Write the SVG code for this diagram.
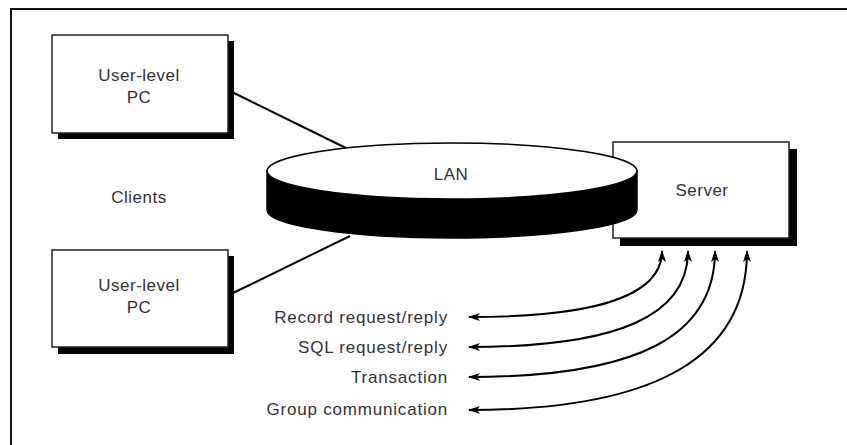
<svg xmlns="http://www.w3.org/2000/svg" width="847" height="445" viewBox="0 0 847 445">
<defs>
<style>
.box{fill:#fff;stroke:#222;stroke-width:1.5}
.shadow{fill:#000}
.t{font-family:"Liberation Sans",Arial,sans-serif;font-size:17px;letter-spacing:0.5px;fill:#333;text-anchor:middle}
.lbl{font-family:"Liberation Sans",Arial,sans-serif;font-size:17px;letter-spacing:0.8px;fill:#333;text-anchor:end}
.line{stroke:#000;stroke-width:2;fill:none}
.arr{stroke:#000;stroke-width:2;fill:none;marker-start:url(#ah);marker-end:url(#ah)}
</style>
<marker id="ah" viewBox="0 0 12 8" refX="11" refY="4" markerWidth="12" markerHeight="8" markerUnits="userSpaceOnUse" orient="auto-start-reverse">
<path d="M0,0 L12,4 L0,8 L3,4 Z" fill="#000"/>
</marker>
</defs>
<rect width="847" height="445" fill="#fff"/>
<g id="frame"><path d="M11,445 L11,9 L847,9" fill="none" stroke="#111" stroke-width="2"/></g>
<g id="connectors">
<line class="line" x1="228" y1="90" x2="350" y2="150"/>
<line class="line" x1="233" y1="293" x2="350" y2="236"/>
<path class="arr" d="M662,251 C662,295 600,317 469,317"/>
<path class="arr" d="M688,251 C688,315 620,347 469,347"/>
<path class="arr" d="M715,251 C715,335 640,377 469,377"/>
<path class="arr" d="M747,251 C747,355 660,410 469,410"/>
</g>
<g id="pc1">
<rect class="shadow" x="58" y="41" width="176" height="98"/>
<rect class="box" x="52" y="35" width="176" height="98"/>
<text class="t" x="139" y="81">User-level</text>
<text class="t" x="139" y="103">PC</text>
</g>
<g id="pc2">
<rect class="shadow" x="58" y="256" width="176" height="98"/>
<rect class="box" x="52" y="250" width="176" height="97"/>
<text class="t" x="139" y="291">User-level</text>
<text class="t" x="139" y="313">PC</text>
</g>
<g id="clients"><text class="t" x="139" y="203">Clients</text></g>
<g id="server">
<rect class="shadow" x="620" y="149" width="177" height="97"/>
<rect class="box" x="613" y="142" width="176" height="96"/>
<text class="t" x="702" y="196">Server</text>
</g>
<g id="lan">
<path d="M267,171 L267,210 A185,28 0 0 0 637,210 L637,171 Z" fill="#000" stroke="#000" stroke-width="1.5"/>
<ellipse cx="452" cy="171" rx="185" ry="28" fill="#fff" stroke="#000" stroke-width="1.5"/>
<text class="t" x="451" y="180">LAN</text>
</g>
<g id="labels">
<text class="lbl" x="448" y="323">Record request/reply</text>
<text class="lbl" x="448" y="353">SQL request/reply</text>
<text class="lbl" x="448" y="383">Transaction</text>
<text class="lbl" x="448" y="415">Group communication</text>
</g>
</svg>
